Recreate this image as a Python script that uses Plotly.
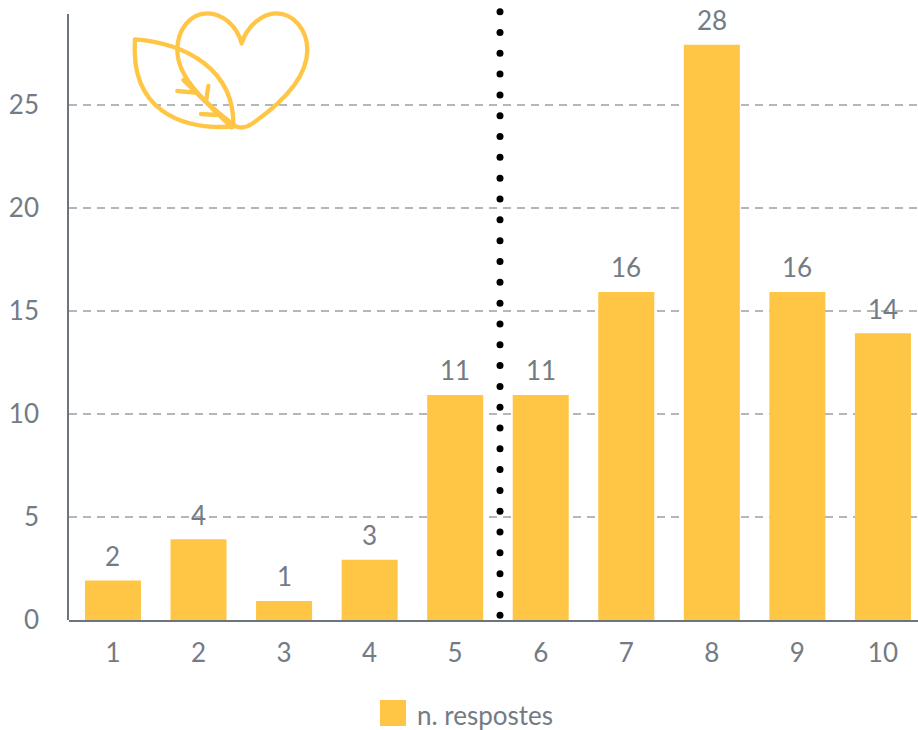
import base64
import plotly.graph_objects as go

categories = ["1", "2", "3", "4", "5", "6", "7", "8", "9", "10"]
respostes = [2, 4, 1, 3, 11, 11, 16, 28, 16, 14]
series_name = "n. respostes"
y_ticks = [0, 5, 10, 15, 20, 25]
y_axis_top = 29.42
divider_after = 5.524
divider_levels = [0.23, 1.24, 2.25, 3.26, 4.27, 5.28, 6.29, 7.30, 8.31, 9.32, 10.33, 11.34, 12.35, 13.36, 14.37,
                  15.38, 16.39, 17.40, 18.41, 19.43, 20.44, 21.45, 22.46, 23.47, 24.48, 25.49, 26.50, 27.51,
                  28.52, 29.53]

W, H = 918, 730
L, R, T, B = 69, 0, 0, 110
PW, PH = W - L - R, H - T - B
GOLD = "#FFC645"
GREY = "#6C757D"
TEXT = "#737B84"
FONT = "Lato, sans-serif"

icon = f'''<svg xmlns="http://www.w3.org/2000/svg" width="600" height="420" viewBox="0 0 600 420">
<g fill="none" stroke="{GOLD}" stroke-width="13" stroke-linecap="round" stroke-linejoin="round">
<path d="M365 130 C350 75 305 40 262 40 C210 40 172 90 172 150 C172 240 270 320 345 378 C360 385 375 385 395 372 C470 320 562 240 562 150 C562 90 520 40 470 40 C425 40 380 80 365 130"/>
<path d="M45 118 C200 130 345 210 340 380 C180 390 30 330 45 118 Z"/>
<path d="M190 240 L335 382 M172 273 L225 278 M265 258 L258 305 M243 342 L290 345 M322 360 L325 380"/>
</g></svg>'''
icon_uri = "data:image/svg+xml;base64," + base64.b64encode(icon.encode()).decode()

x = list(range(1, len(categories) + 1))
fig = go.Figure()
fig.add_trace(go.Bar(x=x, y=respostes, base=-0.08, name=series_name, marker=dict(color=GOLD, line_width=0),
                     width=0.655, showlegend=False))
fig.add_trace(go.Scatter(x=[divider_after] * len(divider_levels), y=divider_levels, mode="markers",
                         marker=dict(color="black", size=7), cliponaxis=False, showlegend=False,
                         hoverinfo="skip"))

annotations = [dict(x=xi, y=v, text=str(v), showarrow=False, yanchor="bottom", yshift=5,
                    font=dict(family=FONT, size=26, color=TEXT))
               for xi, v in zip(x, respostes)]
annotations.append(dict(xref="paper", yref="paper", x=(415 - L) / PW, y=(H - B - 715) / PH, xanchor="left",
                        yanchor="middle", text=series_name, showarrow=False,
                        font=dict(family=FONT, size=26, color=TEXT)))


def px(xp):
    return (xp - L) / PW


def py(yp):
    return (H - B - yp) / PH


fig.update_layout(
    width=W, height=H, margin=dict(l=L, r=R, t=T, b=B), paper_bgcolor="white", plot_bgcolor="white",
    font=dict(family=FONT, size=26, color=TEXT), showlegend=False, annotations=annotations,
    xaxis=dict(range=[0.486, 10.41], tickmode="array", tickvals=x, ticktext=categories, showgrid=False,
               zeroline=False, showline=True, linecolor=GREY, linewidth=2, ticks="", ticklabelstandoff=9),
    yaxis=dict(range=[0, 30.097], tickmode="array", tickvals=y_ticks, showgrid=True, gridcolor="#B4B7BA",
               griddash="8px,6px", gridwidth=2, zeroline=False, showline=False,
               ticks="", ticklabelstandoff=29),
    shapes=[
        dict(type="rect", xref="paper", yref="paper", x0=px(380), x1=px(406), y0=py(726), y1=py(700),
             fillcolor=GOLD, line_width=0),
        dict(type="line", xref="paper", yref="y", x0=px(68), x1=px(68), y0=0, y1=y_axis_top,
             line=dict(color=GREY, width=2)),
    ],
    images=[dict(source=icon_uri, xref="paper", yref="paper", x=px(120), y=py(0), sizex=200 / PW, sizey=140 / PH,
                 xanchor="left", yanchor="top", sizing="stretch", layer="above")],
)
fig.write_html("out.html", config=dict(displayModeBar=False),
               post_script="document.body.style.margin='0';document.documentElement.style.overflow='hidden';")
